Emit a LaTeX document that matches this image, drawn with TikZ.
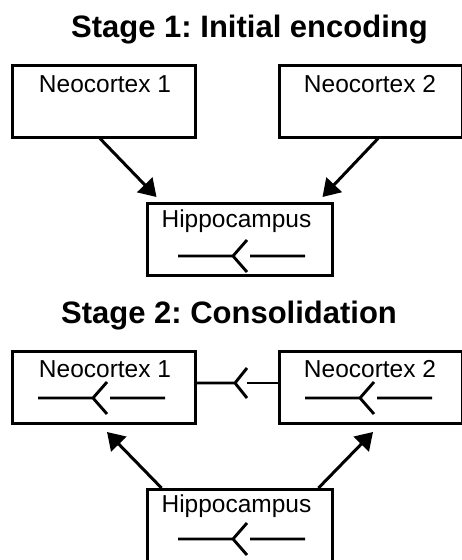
\documentclass[tikz,border=0pt]{standalone}
\usepackage{fontspec}
\setmainfont{Liberation Sans}
\usetikzlibrary{calc,positioning,arrows.meta}
\frenchspacing
\tikzset{
  box/.style={rectangle,draw=black,line width=3pt,minimum width=183pt,minimum height=72pt,inner sep=0pt},
  lbl/.style={inner sep=0pt,anchor=base,font=\fontsize{24.5}{29}\selectfont},
  stage/.style={inner sep=0pt,anchor=base,font=\fontsize{31}{36}\selectfont\bfseries},
  arr/.style={draw,line width=3pt,-{Triangle[length=17pt,width=21pt]}},
  syn/.style={draw,line width=2.9pt},
  synapse/.pic={
    \draw[syn] (-55,0) -- (0,0) (14,-16) -- (0,0) -- (14,16) (17,0) -- (72,0);
  },
}
\begin{document}
\begin{tikzpicture}[x=1pt,y=-1pt]
   \useasboundingbox (0,0) rectangle (462,560);
   % stage 1
   \node[stage] (t1) at (249.5,37) {Stage 1: Initial encoding};
   \node[box] (nc1a) at (103.5,101) {};
   \node[box] (nc2a) at (370.5,101) {};
   \node[box,minimum width=185pt] (hip1) at (239.5,239.5) {};
   \node[lbl] (nc1at) at (105,92) {Neocortex 1};
   \node[lbl] (nc2at) at (370,92) {Neocortex 2};
   \node[lbl] (hip1t) at (236.5,227) {Hippocampus};
   \pic at (233,256) {synapse};

   \draw[arr] ($(nc1a.south)+(-3.5,0)$) -- ($(hip1.north west)+(11,-5)$);
   \draw[arr] ($(nc2a.south)+(7.5,0)$) -- ($(hip1.north east)+(-11,-5)$);

   % stage 2
   \node[stage] (t2) at (229,323) {Stage 2: Consolidation};
   \node[box] (nc1b) at (103.5,387.5) {};
   \node[box] (nc2b) at (370.5,387.5) {};
   \node[box,minimum width=185pt] (hip2) at (239.5,525.5) {};
   \node[lbl] (nc1bt) at (105,377) {Neocortex 1};
   \node[lbl] (nc2bt) at (370,377) {Neocortex 2};
   \node[lbl] (hip2t) at (236.5,512) {Hippocampus};
   \pic at (93,398) {synapse};
   \pic at (360,398) {synapse};
   \pic at (233,539) {synapse};

   \coordinate (sv) at (235,383);
   \draw[syn] (nc1b.east |- sv) -- (sv) -- +(12,-15) (sv) -- +(12,15);
   \draw[syn] (nc2b.west |- sv) -- ++(-31,0);

   \draw[arr] ($(hip2.north west)+(16,0)$) -- ($(nc1b.south)+(3.5,7)$);
   \draw[arr] ($(hip2.north east)+(-15,0)$) -- ($(nc2b.south)+(2.5,7)$);
\end{tikzpicture}
\end{document}
